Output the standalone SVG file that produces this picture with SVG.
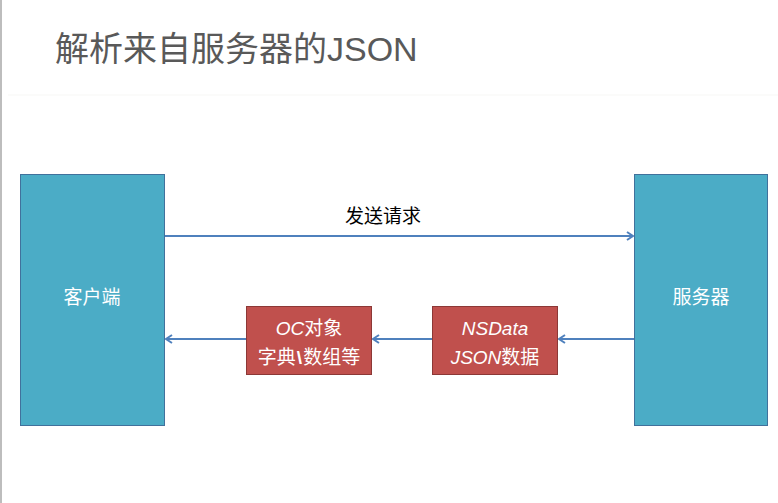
<svg xmlns="http://www.w3.org/2000/svg" width="778" height="503" viewBox="0 0 778 503">
<defs>
<marker id="arr" markerWidth="10" markerHeight="10" refX="8" refY="5" orient="auto" markerUnits="userSpaceOnUse">
<path d="M2,1 L8,5 L2,9" fill="none" stroke="#4f81bd" stroke-width="2"/>
</marker>
</defs>
<style>
.blue{fill:#4bacc6;stroke:#41719c;stroke-width:1}
.red{fill:#c0504d;stroke:#8c3836;stroke-width:1}
.wt{fill:#ffffff;font-family:"Liberation Sans","Noto Sans CJK SC",sans-serif;text-anchor:middle;font-size:19px}
.conn{stroke:#4f81bd;stroke-width:2;fill:none;marker-end:url(#arr)}
</style>
<rect x="0" y="0" width="778" height="503" fill="#ffffff"/>
<rect x="0" y="0" width="2" height="503" fill="#bdbdbd"/>
<line x1="8" y1="95" x2="778" y2="95" stroke="#f7f7f5" stroke-width="1"/>
<text x="55" y="61" font-family="'Liberation Sans','Noto Sans CJK SC',sans-serif" font-size="34" fill="#595959">解析来自服务器的JSON</text>
<g id="connectors">
<line class="conn" x1="165" y1="236" x2="633" y2="236"/>
<line class="conn" x1="634" y1="339" x2="559" y2="339"/>
<line class="conn" x1="432" y1="339" x2="373" y2="339"/>
<line class="conn" x1="246" y1="339" x2="166" y2="339"/>
<text x="383" y="223" font-family="'Liberation Sans','Noto Sans CJK SC',sans-serif" font-size="19" fill="#000000" text-anchor="middle">发送请求</text>
</g>
<g id="client">
<rect class="blue" x="20.5" y="174.5" width="144" height="251"/>
<text class="wt" x="92" y="304">客户端</text>
</g>
<g id="server">
<rect class="blue" x="634.5" y="174.5" width="133" height="251"/>
<text class="wt" x="701" y="304">服务器</text>
</g>
<g id="ocobject">
<rect class="red" x="246.5" y="306.5" width="125" height="68"/>
<text class="wt" x="309" y="335"><tspan font-style="italic">OC</tspan>对象</text>
<text class="wt" x="309" y="364">字典<tspan font-weight="bold" dx="1">\</tspan><tspan dx="1">数组等</tspan></text>
</g>
<g id="nsdata">
<rect class="red" x="432.5" y="306.5" width="125" height="68"/>
<text class="wt" x="495" y="335" font-style="italic">NSData</text>
<text class="wt" x="495" y="364"><tspan font-style="italic">JSON</tspan>数据</text>
</g>
</svg>
